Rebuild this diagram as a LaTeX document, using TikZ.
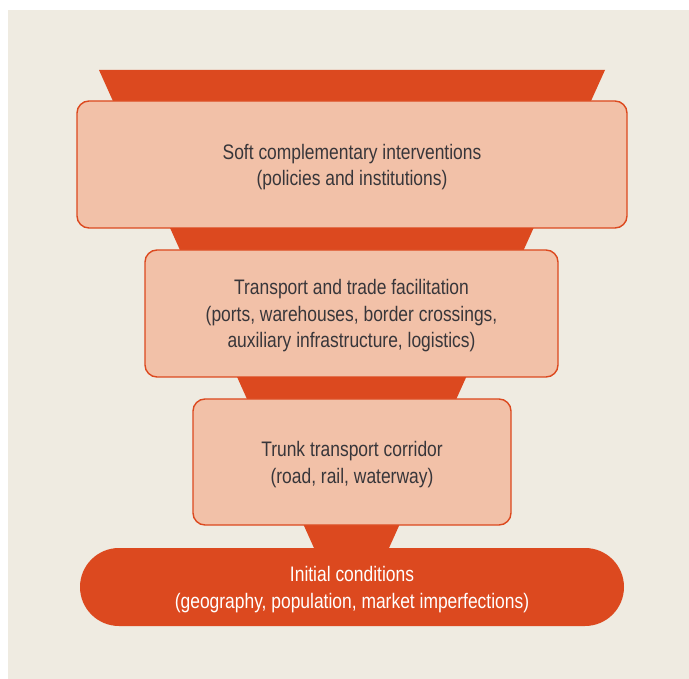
\documentclass[tikz,border=0pt]{standalone}
\usepackage{fontspec}
\setmainfont{Liberation Sans}[FakeStretch=0.83]
\definecolor{bgc}{HTML}{EFEBE1}
\definecolor{funnel}{HTML}{DC491F}
\definecolor{boxfill}{HTML}{F2C1A8}
\definecolor{txt}{HTML}{38363A}
\begin{document}
\begin{tikzpicture}[x=1pt,y=-1pt,
  layerbox/.style={draw=funnel, line width=1.4pt, fill=boxfill, rounded corners=12pt, inner sep=0pt},
  basepill/.style={fill=funnel, rounded corners=39pt, inner sep=0pt},
  layertext/.style={text=txt, align=center, inner sep=0pt, font=\fontsize{21}{26.5}\selectfont},
  basetext/.style={text=white, align=center, inner sep=0pt, font=\fontsize{21}{26.5}\selectfont}]
\useasboundingbox (0,0) rectangle (689,679);
\fill[white] (0,0) rectangle (689,679);
\fill[bgc] (8,10) rectangle (689,679);
\fill[funnel] (99,70) -- (605,70) -- (389,548) -- (314,548) -- cycle;
\node[layerbox, minimum width=550pt, minimum height=127pt] (soft) at (352,164.5) {};
\node[layertext] (softtext) at ([yshift=-2.5pt]soft.center) {Soft complementary interventions\\(policies and institutions)};
\node[layerbox, minimum width=413pt, minimum height=127pt] (facil) at (351.5,313.5) {};
\node[layertext] (faciltext) at ([yshift=-2.5pt]facil.center) {Transport and trade facilitation\\(ports, warehouses, border crossings,\\auxiliary infrastructure, logistics)};
\node[layerbox, minimum width=318pt, minimum height=126pt] (trunk) at (352,462) {};
\node[layertext] (trunktext) at ([yshift=-2.5pt]trunk.center) {Trunk transport corridor\\(road, rail, waterway)};
\node[basepill, minimum width=544pt, minimum height=78pt] (init) at (352,587) {};
\node[basetext] (inittext) at ([yshift=-2.5pt]init.center) {Initial conditions\\(geography, population, market imperfections)};
\end{tikzpicture}
\end{document}
